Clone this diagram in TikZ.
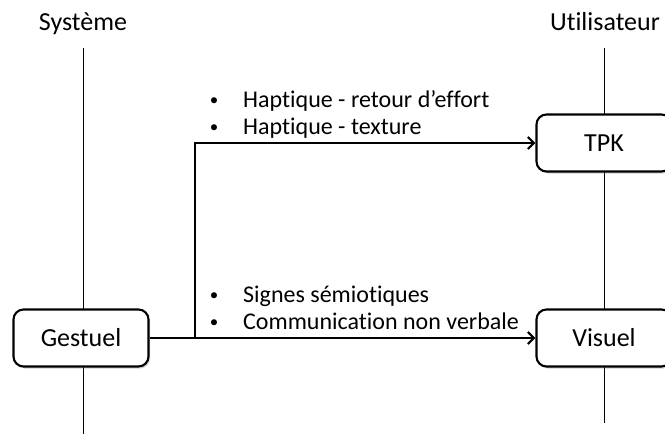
\documentclass[tikz,border=0pt]{standalone}
\usepackage{fontspec}
\setmainfont[Ligatures={NoCommon}]{Carlito}
\usetikzlibrary{shadows,arrows.meta}
\begin{document}
\begin{tikzpicture}[x=1pt,y=-1pt,
  box/.style={draw,line width=2.1pt,rounded corners=10pt,fill=white,minimum width=135pt,minimum height=57pt,inner sep=0pt,
    font=\fontsize{26}{30}\selectfont,
    drop shadow={shadow xshift=1.5pt,shadow yshift=-2pt,opacity=0.35,fill=gray}},
  life/.style={line width=0.8pt},
  conn/.style={line width=2.6pt,-{Straight Barb[length=6pt,width=12pt,line width=2.2pt]}},
  head/.style={font=\fontsize{26}{30}\selectfont,anchor=base},
  bul/.style={font=\fontsize{17}{20}\selectfont,anchor=base,inner sep=0pt},
  lbl/.style={font=\fontsize{24}{27}\selectfont,anchor=base west,inner sep=0pt}]
\useasboundingbox (0,0) rectangle (665,434);
\node[head] (sys) at (83,30) {Système};
\node[head] (usr) at (605,30) {Utilisateur};
\coordinate (sysTop) at (83,48);
\coordinate (sysBot) at (83,434);
\coordinate (usrTop) at (604,48);
\coordinate (usrBot) at (604,423);
\draw[life] (sysTop) -- (sysBot);
\draw[life] (usrTop) -- (usrBot);
\node[box] (gest) at (81,338) {Gestuel};
\node[box] (tpk) at (604,143) {TPK};
\node[box] (vis) at (604,338) {Visuel};
\coordinate (branch) at (195,338);
\draw[conn] (gest.east) -- (vis.west);
\draw[conn] (branch) -- (195,143) -- (tpk.west);
\node[bul] (b1) at (214,105) {\textbullet};
\node[lbl] (l1) at (243,107) {Haptique - retour d’effort};
\node[bul] (b2) at (214,132) {\textbullet};
\node[lbl] (l2) at (243,134) {Haptique - texture};
\node[bul] (b3) at (214,300) {\textbullet};
\node[lbl] (l3) at (243,302) {Signes sémiotiques};
\node[bul] (b4) at (214,327) {\textbullet};
\node[lbl] (l4) at (243,329) {Communication non verbale};
\end{tikzpicture}
\end{document}
